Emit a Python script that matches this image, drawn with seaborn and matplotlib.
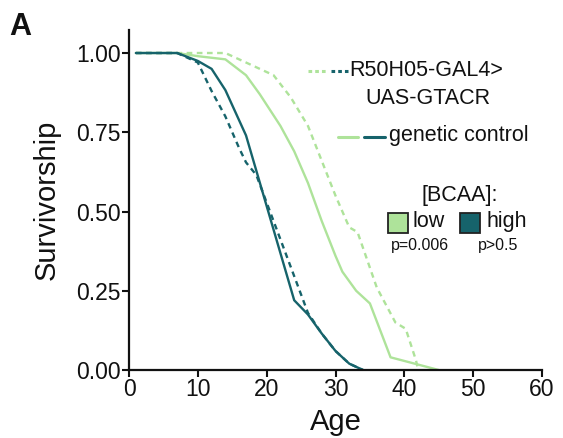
import pandas as pd
import matplotlib
matplotlib.use("Agg")
import matplotlib.pyplot as plt
import seaborn as sns
from matplotlib.lines import Line2D
from matplotlib.patches import Rectangle

# =========================
# Data
# =========================

age_ctrl_high = [1, 7, 10, 12, 14, 17, 24, 26, 28, 30, 32, 34]
surv_ctrl_high = [1.0, 1.0, 0.975, 0.95, 0.883, 0.74, 0.22, 0.175, 0.115, 0.06, 0.02, 0.0]

age_gtacr_high = [1, 7, 10, 12, 14, 16, 17, 18.5, 26, 28, 30, 32, 34]
surv_gtacr_high = [1.0, 1.0, 0.97, 0.88, 0.80, 0.70, 0.655, 0.615, 0.18, 0.115, 0.06, 0.02, 0.0]

age_ctrl_low = [1, 7, 10, 14, 17, 19, 22, 24, 26, 28, 30, 31, 33, 35, 38, 45]
surv_ctrl_low = [1.0, 1.0, 0.99, 0.98, 0.93, 0.87, 0.77, 0.69, 0.59, 0.47, 0.36, 0.31, 0.25, 0.21, 0.04, 0.0]

age_gtacr_low = [1, 7, 14, 17, 21, 23.5, 26, 28, 30, 32, 33.2, 36, 38.7, 40.2, 41.7, 42]
surv_gtacr_low = [1.0, 1.0, 1.0, 0.97, 0.93, 0.86, 0.77, 0.66, 0.55, 0.45, 0.435, 0.26, 0.15, 0.13, 0.03, 0.0]

light = "#aee39a"
dark = "#16636b"

frames = []
for a, s, bcaa, geno in [
    (age_ctrl_low, surv_ctrl_low, "low", "control"),
    (age_gtacr_low, surv_gtacr_low, "low", "gtacr"),
    (age_ctrl_high, surv_ctrl_high, "high", "control"),
    (age_gtacr_high, surv_gtacr_high, "high", "gtacr"),
]:
    frames.append(pd.DataFrame({"Age": a, "Survivorship": s,
                                "BCAA": bcaa, "Genotype": geno}))
df = pd.concat(frames, ignore_index=True)

# =========================
# Plot
# =========================

sns.set_style("ticks")
plt.rcParams["font.family"] = ["Liberation Sans", "DejaVu Sans"]
plt.rcParams["text.color"] = "#111111"
plt.rcParams["axes.labelcolor"] = "#111111"
plt.rcParams["xtick.color"] = "#111111"
plt.rcParams["ytick.color"] = "#111111"

fig = plt.figure(figsize=(5.63, 4.38), dpi=100)
ax = fig.add_axes([129 / 563, 68 / 438, 413 / 563, 340 / 438])

sns.lineplot(
    data=df,
    x="Age",
    y="Survivorship",
    hue="BCAA",
    style="Genotype",
    palette={"low": light, "high": dark},
    dashes={"control": "", "gtacr": (2.4, 1.9)},
    estimator=None,
    sort=False,
    linewidth=1.7,
    legend=False,
    ax=ax
)

ax.set_xlim(0, 60)
ax.set_ylim(0, 1.0726)
ax.set_xticks([0, 10, 20, 30, 40, 50, 60])
ax.set_yticks([0, 0.25, 0.5, 0.75, 1.0])
ax.set_yticklabels(["0.00", "0.25", "0.50", "0.75", "1.00"])
ax.tick_params(labelsize=16.5, width=1.5, length=5, pad=1)
ax.set_xlabel("Age", fontsize=21, labelpad=5)
ax.set_ylabel("Survivorship", fontsize=21, labelpad=11)
for side in ["left", "bottom"]:
    ax.spines[side].set_linewidth(1.6)
    ax.spines[side].set_color("#111111")
sns.despine(ax=ax)

# =========================
# Custom legend
# =========================

T = fig.transFigure
W, H = 563, 438

def fx(px):
    return px / W

def fy(py):
    return 1 - py / H

for x0, x1, c in [(308, 327, light), (331, 348, dark)]:
    fig.add_artist(Line2D([fx(x0), fx(x1)], [fy(71), fy(71)], transform=T,
                          color=c, lw=2.2, linestyle=(0, (1.2, 1.0))))
fig.text(fx(349), fy(71), "R50H05-GAL4>", fontsize=15.5, va="center", ha="left")
fig.text(fx(428), fy(99), "UAS-GTACR", fontsize=15.5, va="center", ha="center")

for x0, x1, c in [(338, 358, light), (364, 385, dark)]:
    fig.add_artist(Line2D([fx(x0), fx(x1)], [fy(137), fy(137)], transform=T,
                          color=c, lw=2.2))
fig.text(fx(389), fy(135), "genetic control", fontsize=15.5, va="center", ha="left")

fig.text(fx(460), fy(195), "[BCAA]:", fontsize=15.5, va="center", ha="center")
for x0, c in [(388, light), (460, dark)]:
    fig.add_artist(Rectangle((fx(x0), fy(233)), fx(20), 20 / H, transform=T,
                             facecolor=c, edgecolor="#222222", lw=1.3))
fig.text(fx(413), fy(221), "low", fontsize=15.5, va="center", ha="left")
fig.text(fx(487), fy(221), "high", fontsize=15.5, va="center", ha="left")
fig.text(fx(420), fy(245), "p=0.006", fontsize=11.5, va="center", ha="center")
fig.text(fx(498), fy(245), "p>0.5", fontsize=11.5, va="center", ha="center")

fig.text(fx(9), fy(27), "A", fontsize=22, fontweight="bold", va="center", ha="left")

fig.savefig("out.png", dpi=100)
